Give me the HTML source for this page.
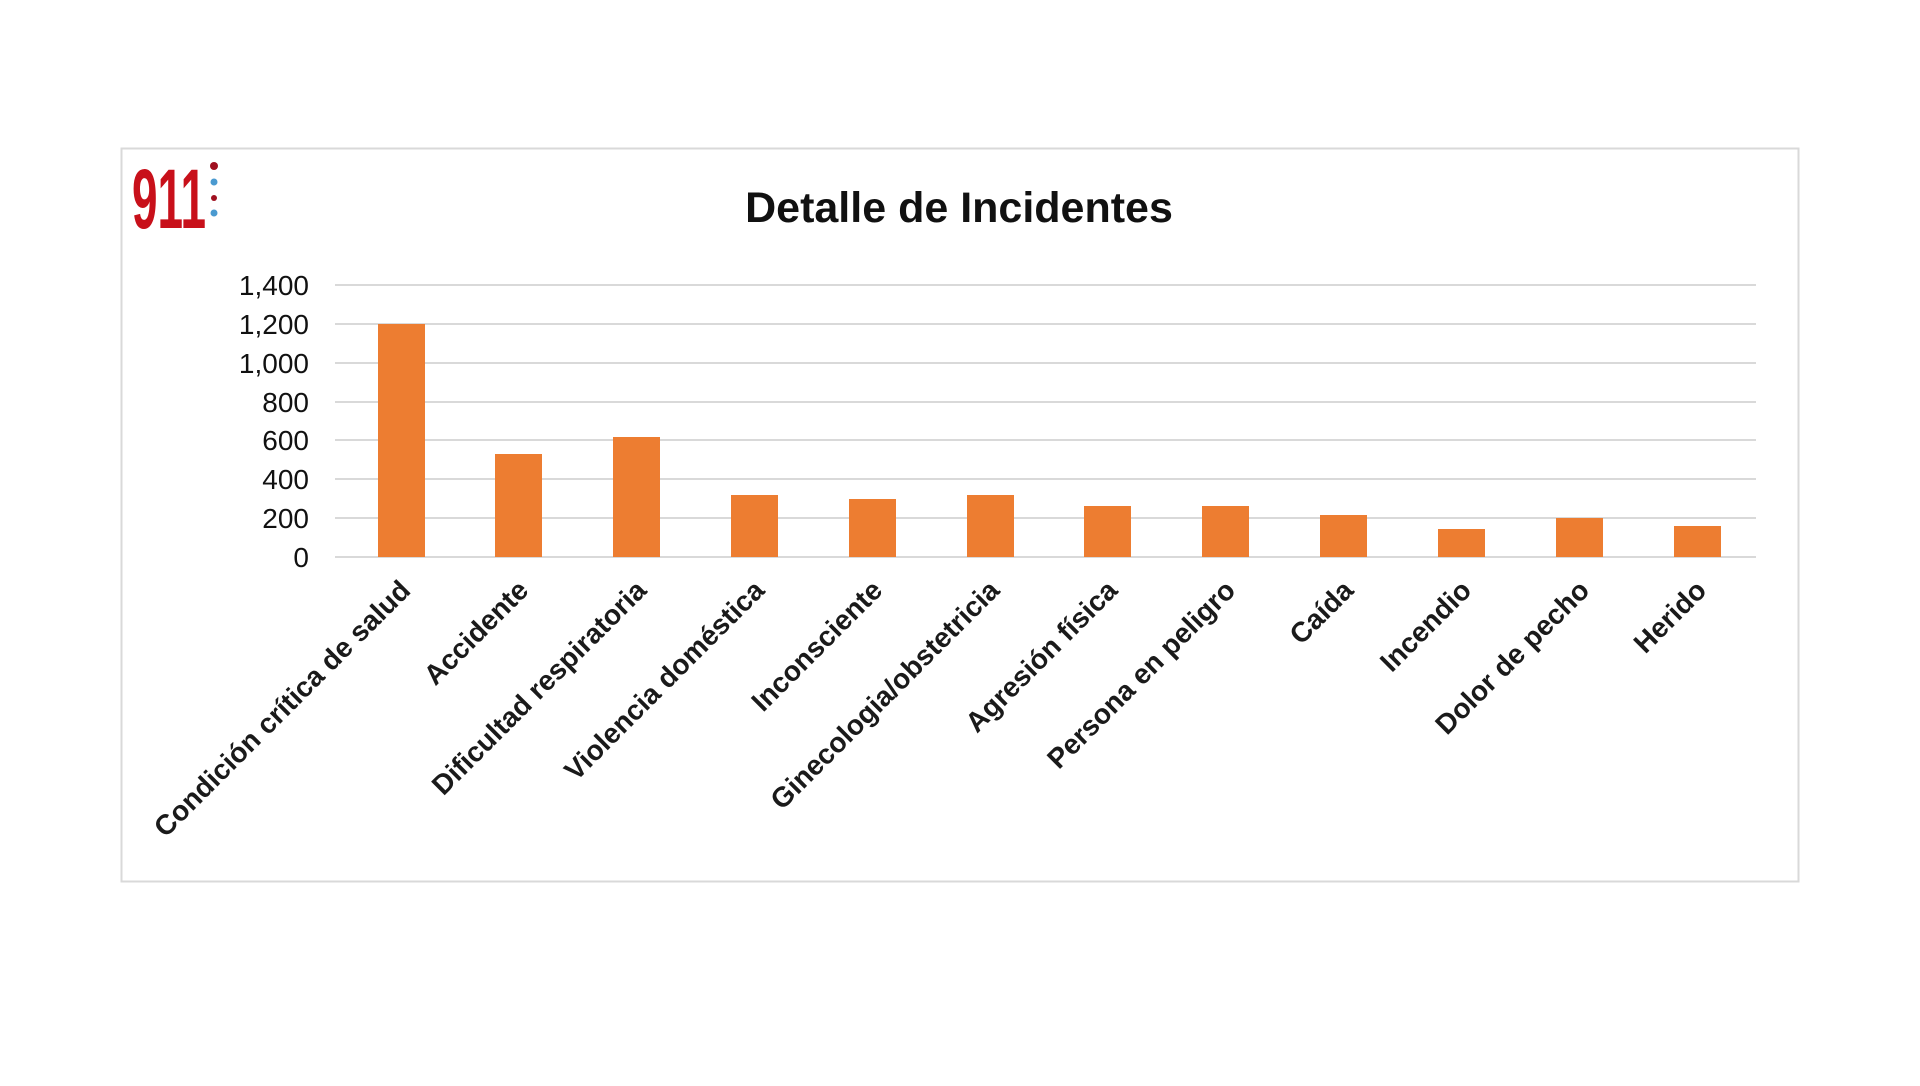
<!DOCTYPE html>
<html><head><meta charset="utf-8"><style>
html,body{margin:0;padding:0;background:#fff;}
</style></head><body>
<svg width="1920" height="1081" xmlns="http://www.w3.org/2000/svg" font-family="'Liberation Sans', sans-serif">
<rect x="0" y="0" width="1920" height="1081" fill="#fff"/>
<rect x="121.5" y="148.5" width="1677" height="733" fill="#fff" stroke="#d9d9d9" stroke-width="2"/>
<!-- logo -->
<text x="132" y="228" font-size="84" font-weight="bold" fill="#c8101a" textLength="74" lengthAdjust="spacingAndGlyphs">911</text>
<circle cx="214" cy="166" r="4" fill="#a01020"/>
<circle cx="214" cy="182" r="3.5" fill="#4a9ad0"/>
<circle cx="214" cy="198" r="3" fill="#a01020"/>
<circle cx="214" cy="213" r="3.5" fill="#4a9ad0"/>
<text x="959" y="222" text-anchor="middle" font-size="43" font-weight="bold" fill="#111">Detalle de Incidentes</text>
<g stroke="#d9d9d9" stroke-width="2">
<line x1="335" x2="1756" y1="285" y2="285"/>
<line x1="335" x2="1756" y1="324" y2="324"/>
<line x1="335" x2="1756" y1="363" y2="363"/>
<line x1="335" x2="1756" y1="402" y2="402"/>
<line x1="335" x2="1756" y1="440" y2="440"/>
<line x1="335" x2="1756" y1="479" y2="479"/>
<line x1="335" x2="1756" y1="518" y2="518"/>
<line x1="335" x2="1756" y1="557" y2="557"/>
</g>
<g font-size="28" fill="#111" text-anchor="end">
<text x="309" y="295">1,400</text>
<text x="309" y="334">1,200</text>
<text x="309" y="373">1,000</text>
<text x="309" y="412">800</text>
<text x="309" y="450">600</text>
<text x="309" y="489">400</text>
<text x="309" y="528">200</text>
<text x="309" y="567">0</text>
</g>
<g fill="#ed7d31">
<rect x="378" y="324" width="47" height="233"/>
<rect x="495" y="454" width="47" height="103"/>
<rect x="613" y="437" width="47" height="120"/>
<rect x="731" y="495" width="47" height="62"/>
<rect x="849" y="499" width="47" height="58"/>
<rect x="967" y="495" width="47" height="62"/>
<rect x="1084" y="506" width="47" height="51"/>
<rect x="1202" y="506" width="47" height="51"/>
<rect x="1320" y="515" width="47" height="42"/>
<rect x="1438" y="529" width="47" height="28"/>
<rect x="1556" y="518" width="47" height="39"/>
<rect x="1674" y="526" width="47" height="31"/>
</g>
<g font-size="28" font-weight="bold" fill="#1a1a1a" text-anchor="end">
<text transform="translate(412,592) rotate(-45)">Condición crítica de salud</text>
<text transform="translate(530,592) rotate(-45)">Accidente</text>
<text transform="translate(648,592) rotate(-45)">Dificultad respiratoria</text>
<text transform="translate(766,592) rotate(-45)">Violencia doméstica</text>
<text transform="translate(884,592) rotate(-45)">Inconsciente</text>
<text transform="translate(1001,592) rotate(-45)">Ginecologia/obstetricia</text>
<text transform="translate(1119,592) rotate(-45)">Agresión física</text>
<text transform="translate(1237,592) rotate(-45)">Persona en peligro</text>
<text transform="translate(1355,592) rotate(-45)">Caída</text>
<text transform="translate(1473,592) rotate(-45)">Incendio</text>
<text transform="translate(1591,592) rotate(-45)">Dolor de pecho</text>
<text transform="translate(1708,592) rotate(-45)">Herido</text>
</g>
</svg>
</body></html>
